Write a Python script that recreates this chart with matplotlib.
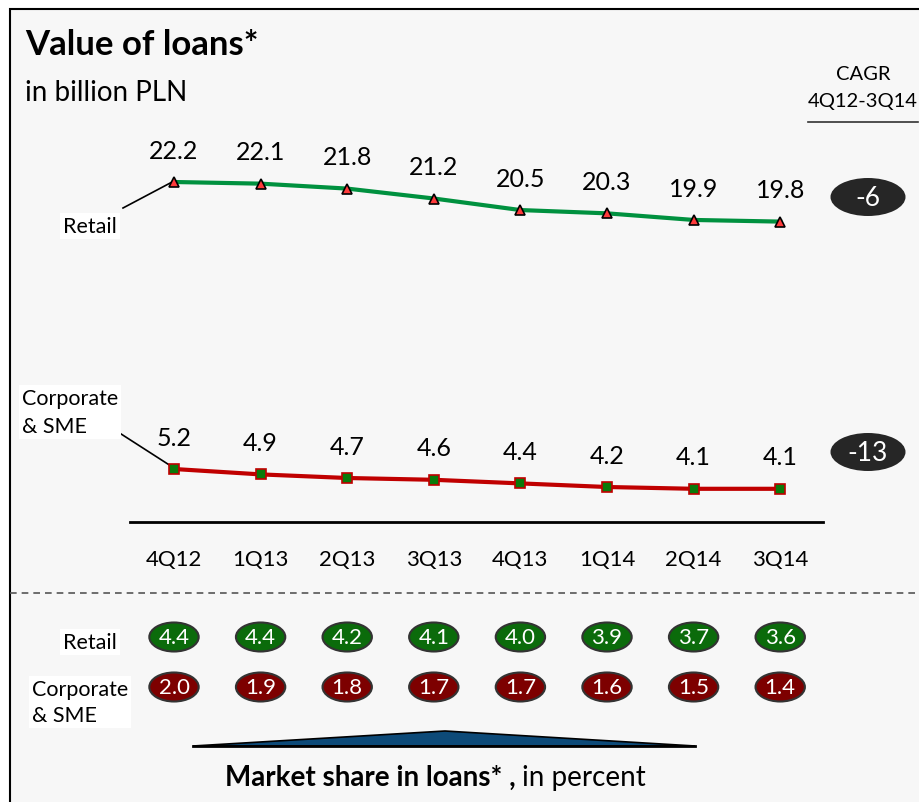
import matplotlib.pyplot as plt
from matplotlib.patches import Ellipse, Polygon, Rectangle

plt.rcParams['font.family'] = ['Lato', 'DejaVu Sans']

quarters = ['4Q12', '1Q13', '2Q13', '3Q13', '4Q13', '1Q14', '2Q14', '3Q14']
retail = [22.2, 22.1, 21.8, 21.2, 20.5, 20.3, 19.9, 19.8]
corporate = [5.2, 4.9, 4.7, 4.6, 4.4, 4.2, 4.1, 4.1]
cagr = {'retail': '-6', 'corporate': '-13'}
share_retail = [4.4, 4.4, 4.2, 4.1, 4.0, 3.9, 3.7, 3.6]
share_corporate = [2.0, 1.9, 1.8, 1.7, 1.7, 1.6, 1.5, 1.4]

W, H = 920, 803
GREEN = '#00913f'
RED = '#c00000'
BG = '#f7f7f7'


def ax_rect(x0, y0, x1, y1):
    """pixel box (top-left origin) -> figure fraction rect"""
    return [x0 / W, 1 - y1 / H, (x1 - x0) / W, (y1 - y0) / H]


fig = plt.figure(figsize=(W / 100, H / 100), dpi=100)

# overlay in pixel coordinates for frame, titles, labels
bg = fig.add_axes([0, 0, 1, 1])
bg.set_xlim(0, W)
bg.set_ylim(H, 0)
bg.axis('off')
bg.add_patch(Rectangle((10, 10), 930, 820, facecolor=BG, edgecolor='black', lw=1.5))

bg.text(25, 45, 'Value of loans*', fontsize=25, fontweight='bold', va='center')
bg.text(25, 93, 'in billion PLN', fontsize=20, va='center')
bg.text(863, 75, 'CAGR', fontsize=14.5, ha='center', va='center')
bg.text(863, 102, '4Q12-3Q14', fontsize=14.5, ha='center', va='center')
bg.plot([808, 918], [123, 123], color='#333333', lw=1.2)

for y, txt in [(198, cagr['retail']), (453, cagr['corporate'])]:
    bg.add_patch(Ellipse((868, y), 75, 38, facecolor='#262626', edgecolor='none'))
    bg.text(868, y + 1, txt, color='white', fontsize=19, ha='center', va='center')

bg.text(90, 227, 'Retail', fontsize=15.5, ha='center', va='center',
        bbox=dict(facecolor='white', edgecolor='none', pad=2))
bg.plot([123, 174], [209, 182], color='black', lw=1.2)
bg.text(22, 413, 'Corporate\n& SME', fontsize=15.5, ha='left', va='center',
        linespacing=1.55, bbox=dict(facecolor='white', edgecolor='none', pad=2))
bg.plot([118, 174], [433, 469], color='black', lw=1.2)

bg.plot([130, 823], [523, 523], color='black', lw=2)
bg.plot([10, 920], [594, 594], color='#555555', lw=1.2, ls=(0, (4, 3)))

bg.text(90, 643, 'Retail', fontsize=15.5, ha='center', va='center',
        bbox=dict(facecolor='white', edgecolor='none', pad=2))
bg.text(32, 703, 'Corporate\n& SME', fontsize=15.5, ha='left', va='center',
        linespacing=1.4, bbox=dict(facecolor='white', edgecolor='none', pad=2))

bg.add_patch(Polygon([[193, 747], [445, 732], [695, 747]], closed=True,
                     facecolor='#0d4a78', edgecolor='black', lw=1.2))
bg.plot([193, 695], [747, 747], color='black', lw=2)
t1 = bg.text(225, 778, 'Market share in loans* ,', fontsize=20, fontweight='bold', va='center')
fig.canvas.draw()
bb = t1.get_window_extent()
bg.text(225 + bb.width + 6, 778, 'in percent', fontsize=20, va='center')

# retail line
ax_r = fig.add_axes(ax_rect(130.7, 151, 823.5, 241))
ax_r.set_xlim(-0.5, 7.5)
ax_r.set_ylim(22.2 - 58 / 16.5, 22.2 + 32 / 16.5)
ax_r.axis('off')
xs = range(len(quarters))
ax_r.plot(xs, retail, color=GREEN, lw=3, zorder=2)
ax_r.plot(xs, retail, ls='none', marker='^', ms=7, mfc='#ff3b3b', mec='black', mew=1.2, zorder=3)
for x, v in zip(xs, retail):
    ax_r.annotate(f'{v:.1f}', (x, v), xytext=(0, 23), textcoords='offset points',
                  ha='center', va='center', fontsize=18)

# corporate line
ax_c = fig.add_axes(ax_rect(130.7, 441, 823.5, 511))
ax_c.set_xlim(-0.5, 7.5)
ax_c.set_ylim(5.2 - 41 / 18, 5.2 + 29 / 18)
ax_c.axis('off')
ax_c.plot(xs, corporate, color=RED, lw=3, zorder=2)
ax_c.plot(xs, corporate, ls='none', marker='s', ms=6.5, mfc='#0a7a0a', mec=RED, mew=1.2, zorder=3)
for x, v in zip(xs, corporate):
    ax_c.annotate(f'{v:.1f}', (x, v), xytext=(0, 23), textcoords='offset points',
                  ha='center', va='center', fontsize=18)

# category labels
ax_x = fig.add_axes(ax_rect(130.7, 545, 823.5, 575))
ax_x.set_xlim(-0.5, 7.5)
ax_x.set_ylim(0, 1)
ax_x.axis('off')
for x, q in zip(xs, quarters):
    ax_x.text(x, 0.5, q, ha='center', va='center', fontsize=16)

# market share bubbles
ax_s = fig.add_axes(ax_rect(130.7, 613, 823.5, 713))
ax_s.set_xlim(-0.5, 7.5)
ax_s.set_ylim(0, 1)
ax_s.axis('off')
for row, vals, fc in [(0.75, share_retail, '#0b6b0b'), (0.25, share_corporate, '#7d0000')]:
    for x, v in zip(xs, vals):
        ax_s.add_patch(Ellipse((x, row), 0.57, 0.29, facecolor=fc, edgecolor='#333333', lw=1.5))
        ax_s.text(x, row, f'{v:.1f}', color='white', ha='center', va='center', fontsize=16)

fig.savefig('out.png', dpi=100, facecolor='white')
